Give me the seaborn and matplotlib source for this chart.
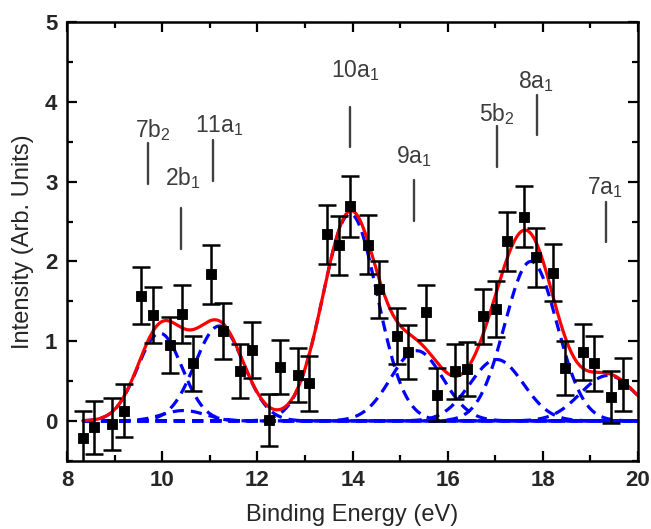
import numpy as np
import pandas as pd
import matplotlib
matplotlib.use("Agg")
import matplotlib.pyplot as plt
from matplotlib.ticker import MultipleLocator
import seaborn as sns

# measured points
energy = [8.33, 8.57, 8.94, 9.20, 9.56, 9.80, 10.16, 10.41, 10.65, 11.03, 11.27, 11.64, 11.88,
          12.25, 12.48, 12.85, 13.09, 13.47, 13.72, 13.95, 14.32, 14.56, 14.93, 15.17, 15.54,
          15.78, 16.15, 16.40, 16.75, 17.02, 17.24, 17.61, 17.86, 18.22, 18.47, 18.84, 19.08,
          19.43, 19.68]
intensity = [-0.21, -0.08, -0.04, 0.13, 1.57, 1.33, 0.95, 1.34, 0.72, 1.84, 1.13, 0.63, 0.89,
             0.01, 0.68, 0.58, 0.47, 2.34, 2.20, 2.69, 2.21, 1.65, 1.06, 0.86, 1.36,
             0.33, 0.62, 0.65, 1.31, 1.40, 2.25, 2.56, 2.05, 1.86, 0.66, 0.86, 0.72,
             0.30, 0.46]
error = [0.33, 0.33, 0.33, 0.33, 0.36, 0.35, 0.35, 0.36, 0.34, 0.37, 0.35, 0.34, 0.35,
         0.33, 0.34, 0.34, 0.34, 0.37, 0.37, 0.38, 0.37, 0.36, 0.35, 0.34, 0.35,
         0.33, 0.34, 0.34, 0.35, 0.35, 0.37, 0.38, 0.37, 0.36, 0.34, 0.35, 0.34,
         0.33, 0.33]

# fitted gaussian components
peak_center = [9.95, 10.45, 11.20, 13.95, 15.35, 17.03, 17.75, 19.37]
peak_height = [1.10, 0.13, 1.19, 2.60, 0.88, 0.77, 2.00, 0.57]
peak_sigma = [0.47, 0.45, 0.51, 0.57, 0.55, 0.56, 0.55, 0.58]

# orbital labels
orb_label = ["7b$_2$", "2b$_1$", "11a$_1$", "10a$_1$", "9a$_1$", "5b$_2$", "8a$_1$", "7a$_1$"]
orb_x = [9.71, 10.39, 11.06, 13.95, 15.30, 17.04, 17.87, 19.33]
orb_top = [3.48, 2.67, 3.52, 3.94, 3.02, 3.70, 4.09, 2.75]
orb_text_x = [9.80, 10.43, 11.20, 14.06, 15.29, 17.03, 17.86, 19.31]
orb_text_y = [3.65, 3.04, 3.70, 4.40, 3.32, 3.85, 4.25, 2.93]

sns.set_style("ticks")
plt.rcParams['font.family'] = ['Liberation Sans', 'DejaVu Sans']
plt.rcParams['mathtext.fontset'] = 'custom'
plt.rcParams['mathtext.rm'] = 'Liberation Sans'
plt.rcParams['mathtext.it'] = 'Liberation Sans'

fig = plt.figure(figsize=(6.51, 5.29), dpi=100)
ax = fig.add_axes([0.103, 0.129, 0.877, 0.829])

xx = np.linspace(energy[0], 20, 400)
comps = []
total = np.zeros_like(xx)
for i, (c, h, s) in enumerate(zip(peak_center, peak_height, peak_sigma)):
    g = h * np.exp(-(xx - c) ** 2 / (2 * s ** 2))
    total += g
    comps.append(pd.DataFrame({"x": xx, "y": g, "peak": i}))
comp_df = pd.concat(comps)
fit_df = pd.DataFrame({"x": xx, "y": total})
pts = pd.DataFrame({"E": energy, "I": intensity, "err": error})

sns.lineplot(data=comp_df, x="x", y="y", units="peak", estimator=None, color="#0000ff",
             lw=2.3, dashes=False, ax=ax, linestyle=(0, (3.5, 2.2)))
sns.lineplot(data=fit_df, x="x", y="y", color="#ff0000", lw=2.3, ax=ax)
ax.errorbar(pts["E"], pts["I"], yerr=pts["err"], fmt="none", ecolor="black",
            elinewidth=1.8, capsize=6.5, capthick=1.8, zorder=4)
sns.scatterplot(data=pts, x="E", y="I", marker="s", color="black", s=60,
                edgecolor="black", ax=ax, zorder=5)

for lab, lx, lt, tx, ty in zip(orb_label, orb_x, orb_top, orb_text_x, orb_text_y):
    ax.plot([lx, lx], [lt - 0.51, lt], color="#404040", lw=1.7)
    ax.text(tx, ty, lab, ha="center", va="center", fontsize=16.5, color="#3c3c3c")

ax.set_xlim(8, 20)
ax.set_ylim(-0.5, 5)
ax.xaxis.set_major_locator(MultipleLocator(2))
ax.xaxis.set_minor_locator(MultipleLocator(1))
ax.yaxis.set_major_locator(MultipleLocator(1))
ax.yaxis.set_minor_locator(MultipleLocator(0.5))
ax.tick_params(which="both", direction="in", top=True, right=True, width=1.6, color="black")
ax.tick_params(which="major", length=7, labelsize=16, pad=7)
ax.tick_params(which="minor", length=4)
for t in ax.get_xticklabels() + ax.get_yticklabels():
    t.set_fontweight("bold")
for sp in ax.spines.values():
    sp.set_linewidth(1.8)
    sp.set_color("black")
ax.set_xlabel("Binding Energy (eV)", fontsize=17, labelpad=9)
ax.set_ylabel("Intensity (Arb. Units)", fontsize=17, labelpad=8)

fig.savefig("out.png", dpi=100)
